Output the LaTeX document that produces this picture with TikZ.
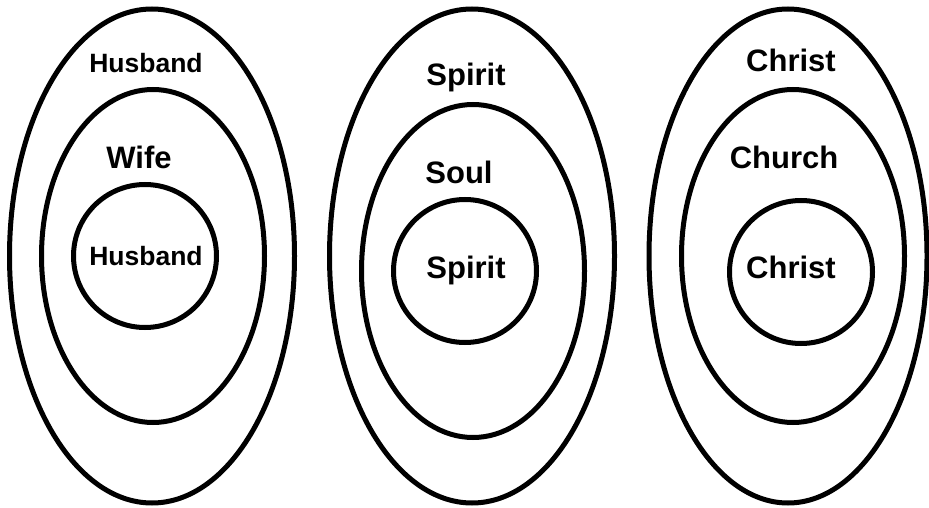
\documentclass[tikz,border=0pt]{standalone}
\usepackage{fontspec}
\setmainfont{Liberation Sans}
\begin{document}
\begin{tikzpicture}[x=1pt, y=-1pt, line width=5pt,
    etiqueta/.style={font=\bfseries\fontsize{31pt}{31pt}\selectfont, anchor=base, inner sep=0pt},
    etiquetachica/.style={etiqueta, font=\bfseries\fontsize{26.5pt}{26.5pt}\selectfont}]
    \useasboundingbox (0,0) rectangle (929,508);

    % Primer grupo: esposo y esposa
    \draw (152,256) ellipse (142.5 and 247);
    \draw (153,256) ellipse (111.5 and 166.5);
    \draw (145,256) circle (71.5);
    \node[etiquetachica] (esposoA) at (146,73) {Husband};
    \node[etiqueta] (esposa) at (139,168) {Wife};
    \node[etiquetachica] (esposoB) at (146,265) {Husband};

    % Segundo grupo: espiritu y alma
    \draw (472,256) ellipse (142.5 and 247);
    \draw (473,271) ellipse (111.5 and 166.5);
    \draw (465,271) circle (71.5);
    \node[etiqueta] (espirituA) at (466,86) {Spirit};
    \node[etiqueta] (alma) at (459,183) {Soul};
    \node[etiqueta] (espirituB) at (466,278) {Spirit};

    % Tercer grupo: Cristo e iglesia
    \draw (788,256) ellipse (139 and 247);
    \draw (793,256) ellipse (111.5 and 166.5);
    \draw (801,272) circle (71.5);
    \node[etiqueta] (cristoA) at (791,72) {Christ};
    \node[etiqueta] (iglesia) at (784,168) {Church};
    \node[etiqueta] (cristoB) at (791,278) {Christ};
\end{tikzpicture}
\end{document}
